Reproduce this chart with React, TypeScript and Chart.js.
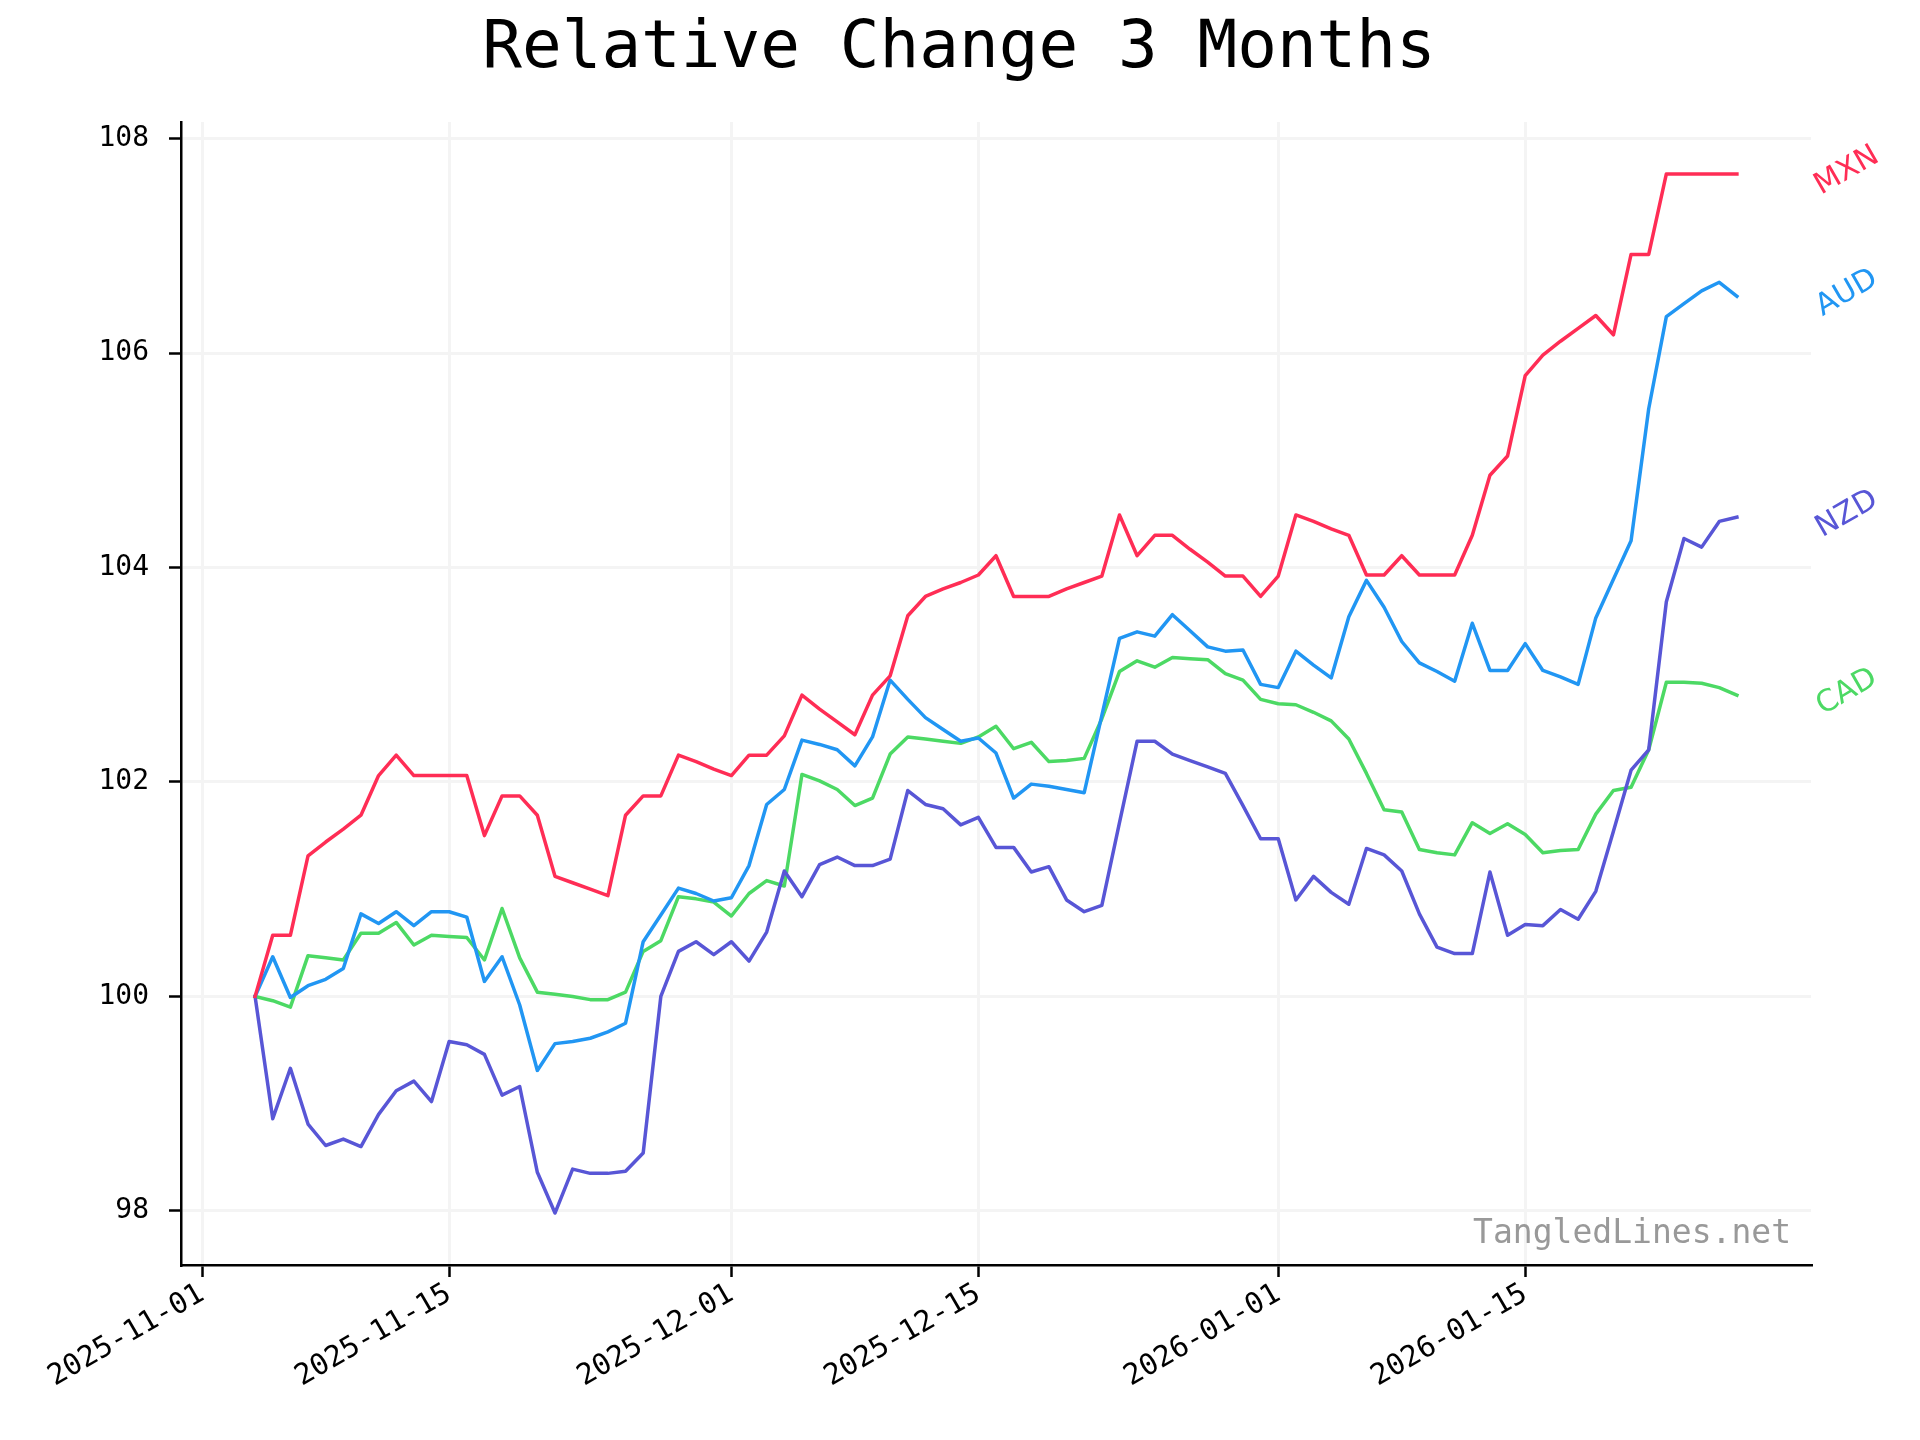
import React, { useEffect, useRef } from "react";
import { Chart, registerables } from "chart.js";

Chart.register(...registerables);

const TITLE = "Relative Change 3 Months";
const WATERMARK = "TangledLines.net";
const ORIGIN_DATE = "2025-11-01";
const START_DATE = "2025-11-04";

const MXN = [
  100.0, 100.57, 100.57, 101.31, 101.44, 101.56, 101.69, 102.06, 102.25, 102.06,
  102.06, 102.06, 102.06, 101.5, 101.87, 101.87, 101.69, 101.12, 101.06, 101.0,
  100.94, 101.69, 101.87, 101.87, 102.25, 102.19, 102.12, 102.06, 102.25, 102.25,
  102.43, 102.81, 102.68, 102.56, 102.44, 102.81, 102.99, 103.55, 103.73, 103.8,
  103.86, 103.93, 104.11, 103.73, 103.73, 103.73, 103.8, 103.86, 103.92, 104.49,
  104.11, 104.3, 104.3, 104.17, 104.05, 103.92, 103.92, 103.73, 103.92, 104.49,
  104.43, 104.36, 104.3, 103.93, 103.93, 104.11, 103.93, 103.93, 103.93, 104.3,
  104.86, 105.04, 105.79, 105.98, 106.11, 106.23, 106.35, 106.17, 106.92, 106.92,
  107.67, 107.67, 107.67, 107.67, 107.67,
];

const AUD = [
  100.0, 100.37, 99.99, 100.1, 100.16, 100.26, 100.77, 100.68, 100.79, 100.66,
  100.79, 100.79, 100.74, 100.14, 100.37, 99.92, 99.31, 99.56, 99.58, 99.61,
  99.67, 99.75, 100.51, 100.76, 101.01, 100.96, 100.89, 100.92, 101.22, 101.79,
  101.93, 102.39, 102.35, 102.3, 102.15, 102.42, 102.95, 102.77, 102.6, 102.49,
  102.38, 102.41, 102.27, 101.85, 101.98, 101.96, 101.93, 101.9, 102.62, 103.34,
  103.4, 103.36, 103.56, 103.41, 103.26, 103.22, 103.23, 102.91, 102.88, 103.22,
  103.09, 102.97, 103.54, 103.88, 103.63, 103.31, 103.11, 103.03, 102.94, 103.48,
  103.04, 103.04, 103.29, 103.04, 102.98, 102.91, 103.53, 103.89, 104.25, 105.48,
  106.34, 106.46, 106.58, 106.66, 106.53,
];

const CAD = [
  100.0, 99.96, 99.9, 100.38, 100.36, 100.34, 100.59, 100.59, 100.69, 100.48,
  100.57, 100.56, 100.55, 100.34, 100.82, 100.36, 100.04, 100.02, 100.0, 99.97,
  99.97, 100.04, 100.42, 100.52, 100.93, 100.91, 100.88, 100.75, 100.96, 101.08,
  101.03, 102.07, 102.01, 101.93, 101.78, 101.85, 102.26, 102.42, 102.4, 102.38,
  102.36, 102.42, 102.52, 102.31, 102.37, 102.19, 102.2, 102.22, 102.59, 103.03,
  103.13, 103.07, 103.16, 103.15, 103.14, 103.01, 102.95, 102.77, 102.73, 102.72,
  102.65, 102.57, 102.4, 102.08, 101.74, 101.72, 101.37, 101.34, 101.32, 101.62,
  101.52, 101.61, 101.51, 101.34, 101.36, 101.37, 101.7, 101.92, 101.95, 102.3,
  102.93, 102.93, 102.92, 102.88, 102.81,
];

const NZD = [
  100.0, 98.86, 99.33, 98.81, 98.61, 98.67, 98.6, 98.9, 99.12, 99.21,
  99.02, 99.58, 99.55, 99.46, 99.08, 99.16, 98.36, 97.98, 98.39, 98.35,
  98.35, 98.37, 98.54, 100.0, 100.42, 100.51, 100.39, 100.51, 100.33, 100.6,
  101.17, 100.93, 101.23, 101.3, 101.22, 101.22, 101.28, 101.92, 101.79, 101.75,
  101.6, 101.67, 101.39, 101.39, 101.16, 101.21, 100.9, 100.79, 100.85, 101.62,
  102.38, 102.38, 102.26, 102.2, 102.14, 102.08, 101.78, 101.47, 101.47, 100.9,
  101.12, 100.97, 100.86, 101.38, 101.32, 101.17, 100.77, 100.46, 100.4, 100.4,
  101.16, 100.57, 100.67, 100.66, 100.81, 100.72, 100.98, 101.54, 102.11, 102.3,
  103.68, 104.27, 104.19, 104.43, 104.47,
];

const SERIES_NAMES = ["MXN", "AUD", "NZD", "CAD"];
const SERIES_VALUES = [MXN, AUD, NZD, CAD];
const SERIES_COLORS = ["#FF2D55", "#2196F3", "#5856D6", "#4CD964"];

const X_TICK_DATES = ["2025-11-01", "2025-11-15", "2025-12-01", "2025-12-15", "2026-01-01", "2026-01-15"];
const Y_TICKS = [98, 100, 102, 104, 106, 108];

const DAY_MS = 86400000;
const dayOf = (iso: string) =>
  (Date.parse(iso + "T00:00:00Z") - Date.parse(ORIGIN_DATE + "T00:00:00Z")) / DAY_MS;

const DATES = MXN.map((_, i) =>
  new Date(Date.parse(START_DATE + "T00:00:00Z") + i * DAY_MS).toISOString().slice(0, 10)
);

export default function App() {
  const canvasRef = useRef<HTMLCanvasElement | null>(null);

  useEffect(() => {
    const canvas = canvasRef.current;
    if (!canvas) return;

    const xs = DATES.map(dayOf);
    const xMinD = Math.min(...xs);
    const xMaxD = Math.max(...xs);
    const xPad = (xMaxD - xMinD) * 0.05;
    const all = SERIES_VALUES.flat();
    const yMinD = Math.min(...all);
    const yMaxD = Math.max(...all);
    const yPad = (yMaxD - yMinD) * 0.05;

    const overlay = {
      id: "overlay",
      afterDraw(chart: any) {
        const ctx = chart.ctx as CanvasRenderingContext2D;
        const yScale = chart.scales.y;
        ctx.save();
        ctx.fillStyle = "#000000";
        ctx.font = '66px "DejaVu Sans Mono"';
        ctx.textAlign = "center";
        ctx.textBaseline = "alphabetic";
        ctx.fillText(TITLE, 959, 67);

        ctx.font = '30px "DejaVu Sans"';
        SERIES_NAMES.forEach((name, i) => {
          const vals = SERIES_VALUES[i];
          const y = yScale.getPixelForValue(vals[vals.length - 1]) - 3;
          ctx.save();
          ctx.translate(1847, y);
          ctx.rotate(-Math.PI / 6);
          ctx.fillStyle = SERIES_COLORS[i];
          ctx.textAlign = "center";
          ctx.textBaseline = "middle";
          ctx.fillText(name, 0, 0);
          ctx.restore();
        });

        ctx.font = '33px "DejaVu Sans Mono"';
        ctx.fillStyle = "#999999";
        ctx.textAlign = "right";
        ctx.textBaseline = "alphabetic";
        ctx.fillText(WATERMARK, 1791, 1243);
        ctx.restore();
      },
    };

    const chart = new Chart(canvas, {
      type: "line",
      data: {
        datasets: SERIES_NAMES.map((name, i) => ({
          label: name,
          data: xs.map((x, j) => ({ x, y: SERIES_VALUES[i][j] })),
          borderColor: SERIES_COLORS[i],
          backgroundColor: SERIES_COLORS[i],
          borderWidth: 3.5,
          pointRadius: 0,
          tension: 0,
          fill: false,
          borderJoinStyle: "round",
          borderCapStyle: "square",
        })),
      },
      options: {
        animation: false,
        responsive: false,
        devicePixelRatio: 1,
        events: [],
        layout: { padding: { top: 122, right: 109, left: 0, bottom: 0 } },
        plugins: {
          legend: { display: false },
          title: { display: false },
          tooltip: { enabled: false },
        },
        scales: {
          x: {
            type: "linear",
            min: xMinD - xPad,
            max: xMaxD + xPad,
            afterBuildTicks: (scale: any) => {
              scale.ticks = X_TICK_DATES.map((d) => ({ value: dayOf(d) }));
            },
            afterFit: (scale: any) => {
              scale.height = 175;
            },
            ticks: {
              autoSkip: false,
              maxRotation: 30,
              minRotation: 30,
              padding: 0,
              color: "#000000",
              font: { family: "DejaVu Sans Mono", size: 29 },
              callback: (_v: any, idx: number) => X_TICK_DATES[idx],
            },
            grid: {
              color: "#f4f4f4",
              lineWidth: 3,
              tickLength: 12,
              tickColor: "#000000",
              tickWidth: 2.5,
            },
            border: { display: true, color: "#000000", width: 2.5 },
          },
          y: {
            type: "linear",
            min: yMinD - yPad,
            max: yMaxD + yPad,
            afterBuildTicks: (scale: any) => {
              scale.ticks = Y_TICKS.map((v) => ({ value: v }));
            },
            afterFit: (scale: any) => {
              scale.width = 181;
            },
            ticks: {
              padding: 20,
              color: "#000000",
              font: { family: "DejaVu Sans Mono", size: 28 },
              callback: (v: any) => String(v),
            },
            grid: {
              color: "#f4f4f4",
              lineWidth: 3,
              tickLength: 12,
              tickColor: "#000000",
              tickWidth: 2.5,
            },
            border: { display: true, color: "#000000", width: 2.5 },
          },
        },
      },
      plugins: [overlay],
    } as any);

    return () => chart.destroy();
  }, []);

  return (
    <div style={{ position: "absolute", left: 0, top: 0, width: 1920, height: 1440, background: "#ffffff" }}>
      <canvas ref={canvasRef} width={1920} height={1440} style={{ display: "block", width: 1920, height: 1440 }} />
    </div>
  );
}
